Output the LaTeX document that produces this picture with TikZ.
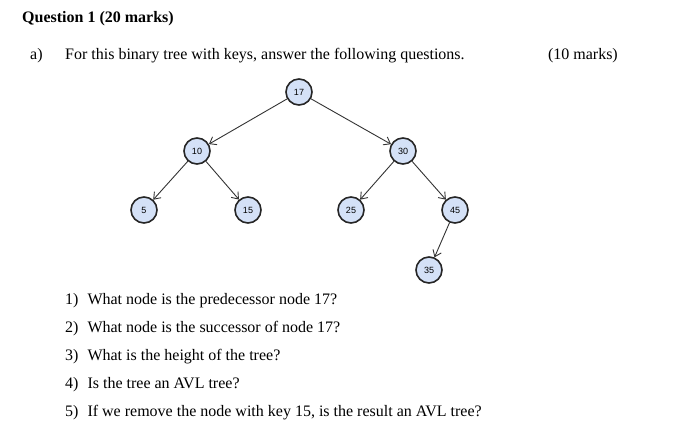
\documentclass[tikz,border=0pt]{standalone}
\usepackage{fontspec}
\usetikzlibrary{arrows.meta}
\setmainfont{Liberation Serif}
\newfontfamily\nodefont{Liberation Sans}
\definecolor{nodefill}{HTML}{D4E1F7}
\begin{document}
\begin{tikzpicture}[x=1pt,y=-1pt,
  tn/.style={circle,draw=black!85,line width=1.6pt,fill=nodefill,minimum size=26pt,inner sep=0pt,font=\nodefont\fontsize{9}{9}\selectfont},
  ed/.style={-{Straight Barb[length=6pt,width=9pt]},line width=0.9pt,black!80},
  tx/.style={anchor=base west,inner sep=0pt,font=\fontsize{16}{18}\selectfont}]
\useasboundingbox (0,0) rectangle (674,440);
\node[tx,font=\bfseries\fontsize{16}{18}\selectfont] (q) at (22,22) {Question 1 (20 marks)};
\node[tx] (a) at (30,59) {a)};
\node[tx] (at) at (65,59) {For this binary tree with keys, answer the following questions.};
\node[tx,anchor=base east] (m) at (618,59) {(10 marks)};
\node (n17) [tn] at (299,92) {17};
\node (n10) [tn] at (197,151) {10};
\node (n30) [tn] at (403,151) {30};
\node (n5) [tn] at (144,210) {5};
\node (n15) [tn] at (248,210) {15};
\node (n25) [tn] at (351,210) {25};
\node (n45) [tn] at (455,210) {45};
\node (n35) [tn] at (429,270) {35};
\draw[ed] (n17) -- (n10);
\draw[ed] (n17) -- (n30);
\draw[ed] (n10) -- (n5);
\draw[ed] (n10) -- (n15);
\draw[ed] (n30) -- (n25);
\draw[ed] (n30) -- (n45);
\draw[ed] (n45) -- (n35);
\node[tx] (l1) at (65,304) {1)\hspace{9pt}What node is the predecessor node 17?};
\node[tx] (l2) at (65,332) {2)\hspace{9pt}What node is the successor of node 17?};
\node[tx] (l3) at (65,360) {3)\hspace{9pt}What is the height of the tree?};
\node[tx] (l4) at (65,388) {4)\hspace{9pt}Is the tree an AVL tree?};
\node[tx] (l5) at (65,416) {5)\hspace{9pt}If we remove the node with key 15, is the result an AVL tree?};
\end{tikzpicture}
\end{document}
